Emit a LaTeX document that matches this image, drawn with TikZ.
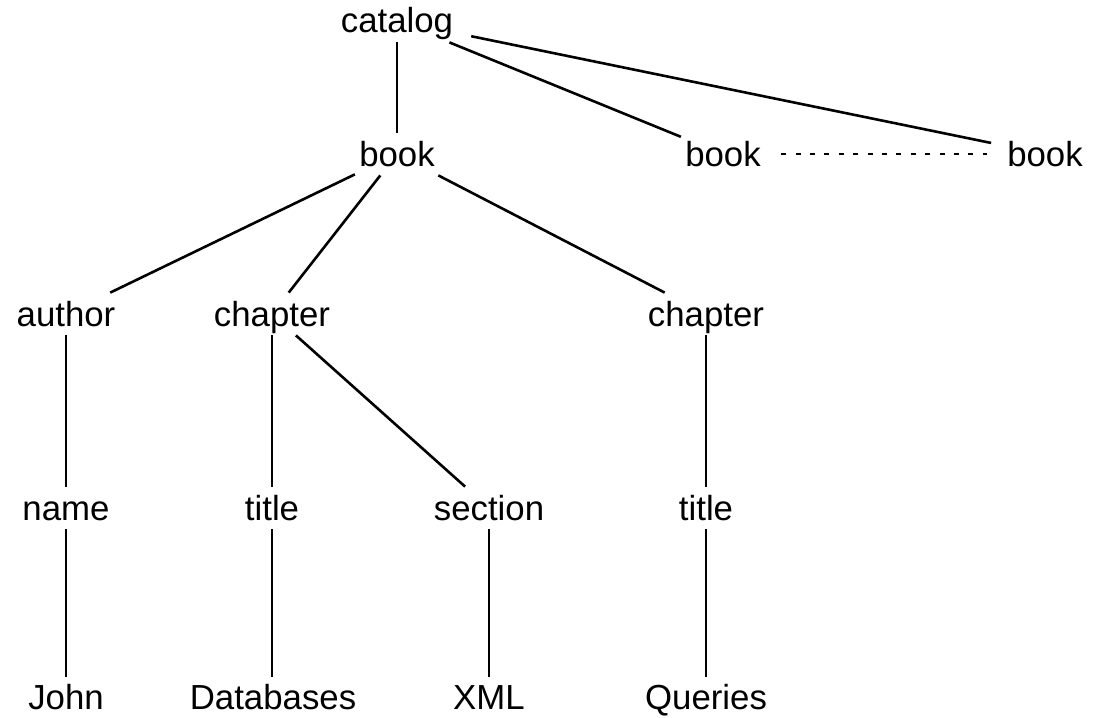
\documentclass[tikz,border=0pt]{standalone}
\usepackage{fontspec}
\setmainfont{Liberation Sans}
\usepackage{tikz}
\usetikzlibrary{positioning}

\begin{document}
\begin{tikzpicture}[
        x=0.5pt, y=-0.5pt,
        every node/.style={font=\fontsize{17.4pt}{20pt}\selectfont},
        elem/.style={anchor=base, inner sep=2pt, text height=14.5pt, text depth=2.5pt},
        leaf/.style={elem, text depth=0pt, inner sep=1.5pt},
        edge/.style={line width=1.3pt},
        more/.style={line width=1.1pt, dash pattern=on 2.5pt off 4.7pt},
    ]
        \useasboundingbox (0,0) rectangle (1102,717);

        % --- root and books ---
        \node[elem] (catalog) at (397,33)   {catalog};
        \node[elem] (book)    at (397,166)  {book};
        \node[elem] (bookb)   at (723,166)  {book};
        \node[elem] (bookc)   at (1045,166) {book};

        % --- children of the first book ---
        \node[elem] (author) at (66,326)  {author};
        \node[elem] (chapa)  at (272,326) {chapter};
        \node[elem] (chapb)  at (706,326) {chapter};

        \node[elem] (name)    at (66,520)  {name};
        \node[elem] (titlea)  at (272,520) {title};
        \node[elem] (section) at (489,520) {section};
        \node[elem] (titleb)  at (706,520) {title};

        % --- text leaves ---
        \node[leaf] (john)      at (66,709)  {John};
        \node[leaf] (databases) at (273,709) {Databases};
        \node[leaf] (xml)       at (489,709) {XML};
        \node[leaf] (queries)   at (706,709) {Queries};

        % --- edges ---
        \draw[edge] (catalog) -- (book);
        \draw[edge] (catalog) -- (bookb);
        \draw[edge, shorten <=7pt, shorten >=6pt] (catalog) -- (bookc);
        \draw[more, shorten <=8pt, shorten >=8pt] (bookb) -- (bookc);

        \draw[edge] (book) -- (author);
        \draw[edge] (book) -- (chapa);
        \draw[edge] (book) -- (chapb);

        \draw[edge] (author) -- (name);
        \draw[edge] (chapa) -- (titlea);
        \draw[edge] (chapa) -- (section);
        \draw[edge] (chapb) -- (titleb);

        \draw[edge] (name) -- (john);
        \draw[edge] (titlea) -- (databases.north -| titlea);
        \draw[edge] (section) -- (xml);
        \draw[edge] (titleb) -- (queries);

    \end{tikzpicture}
\end{document}
